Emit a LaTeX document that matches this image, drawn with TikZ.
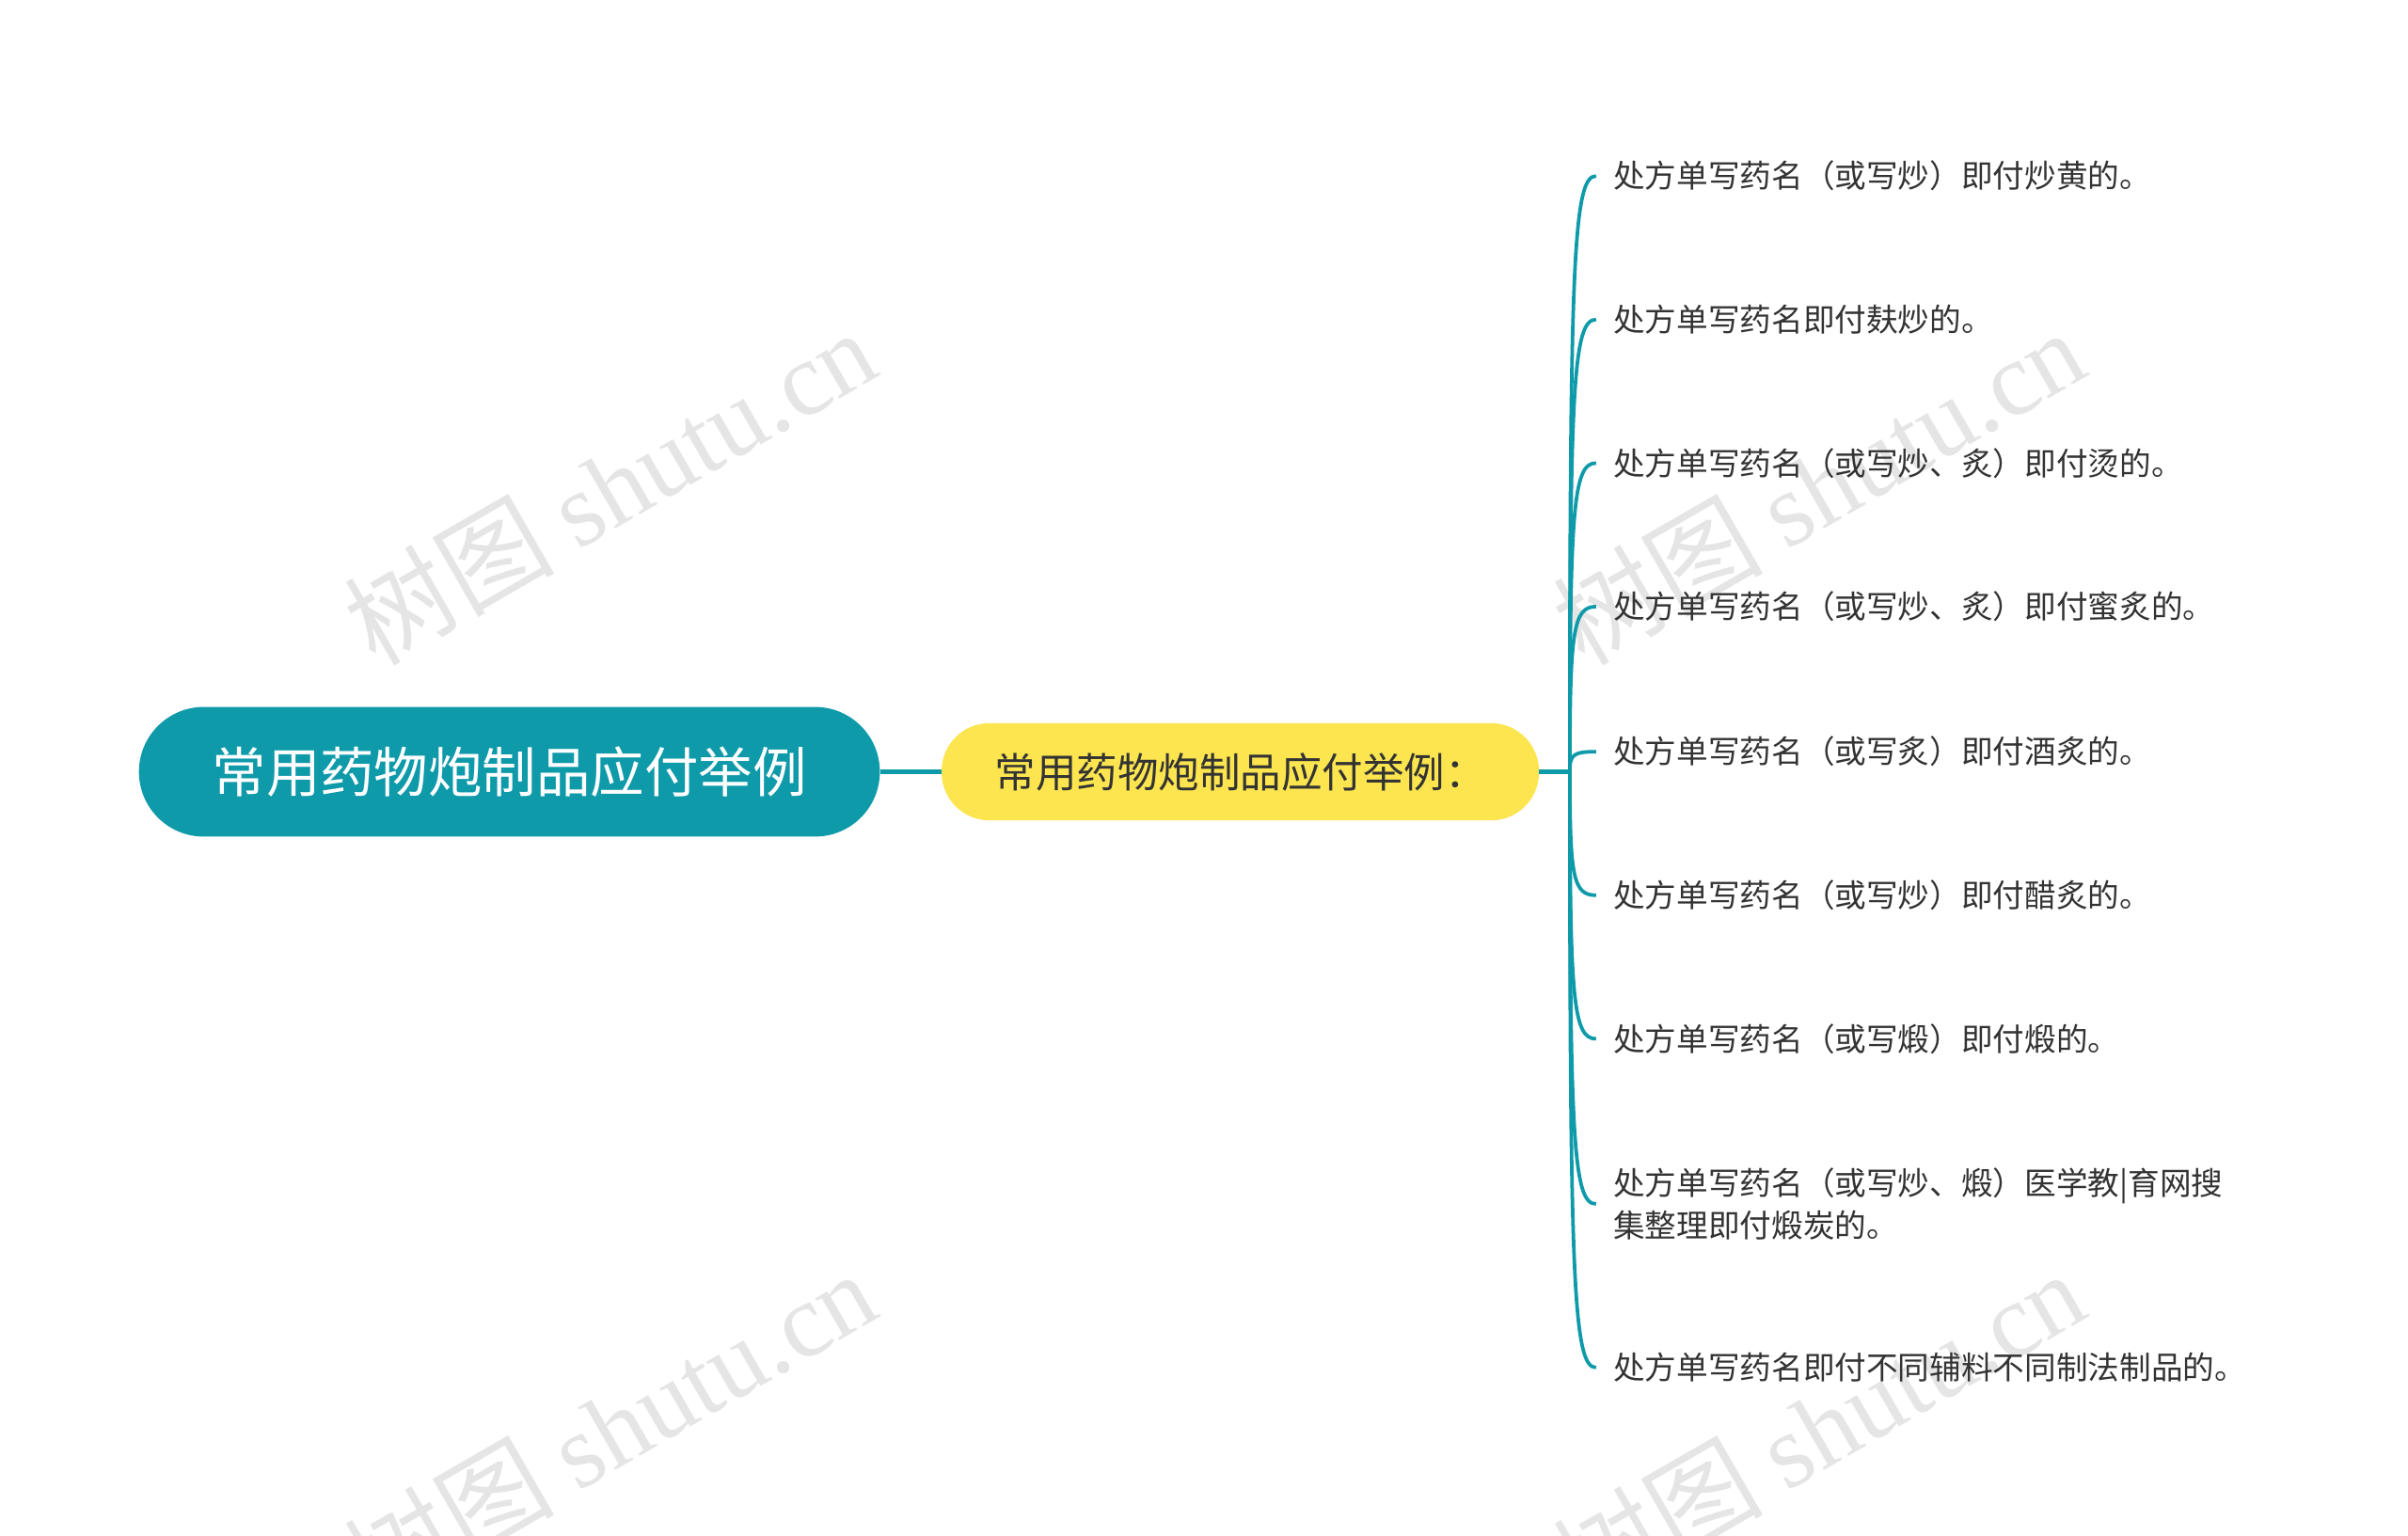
\documentclass[tikz,border=0pt]{standalone}
\usepackage{fontspec}
\setmainfont{Noto Sans CJK SC}
\setsansfont{Noto Sans CJK SC}
\newfontfamily\wmlat{Liberation Serif}
\definecolor{teal1}{HTML}{0F9AAA}
\definecolor{yel}{HTML}{FCE54F}
\definecolor{txt}{HTML}{333333}
\tikzset{
 rootbox/.style={rounded corners=42pt,fill=teal1,text=white,minimum width=480pt,minimum height=84pt,font=\fontsize{35}{40}\selectfont},
 midbox/.style={rounded corners=31pt,fill=yel,text=txt,minimum width=387pt,minimum height=63pt,font=\fontsize{26.5}{30}\selectfont},
 leaf/.style={anchor=west,inner sep=0pt,text=txt,font=\fontsize{20.5}{27}\selectfont,align=left},
 conn/.style={draw=teal1,line width=2.8pt},
 wm/.style={text=gray!20,font=\fontsize{68}{76}\selectfont,rotate=30}
}
\begin{document}
\begin{tikzpicture}[x=1pt,y=-1pt]
\useasboundingbox (0,0) rectangle (1560,995);
\node[wm] (w1) at (395,315) {树图 {\wmlat shutu.cn}};
\node[wm] (w2) at (1178,315) {树图 {\wmlat shutu.cn}};
\node[wm] (w3) at (395,925) {树图 {\wmlat shutu.cn}};
\node[wm] (w4) at (1178,925) {树图 {\wmlat shutu.cn}};
\node[rootbox] (root) at (330,500) {常用药物炮制品应付举例};
\node[midbox] (mid) at (803.5,500) {常用药物炮制品应付举例：};
\draw[conn] (root.east) -- (mid.west);
\coordinate (hub) at (1017,500);
\draw[conn] (mid.east) -- (hub);
\foreach \i/\y/\t in {
 1/114/{处方单写药名（或写炒）即付炒黄的。},
 2/207/{处方单写药名即付麸炒的。},
 3/300/{处方单写药名（或写炒、炙）即付烫的。},
 4/393/{处方单写药名（或写炒、炙）即付蜜炙的。},
 5/487/{处方单写药名（或写炙）即付酒炙的。},
 6/580/{处方单写药名（或写炒）即付醋炙的。},
 7/673/{处方单写药名（或写煅）即付煅的。},
 8/780/{处方单写药名（或写炒、煅）医学教|育网搜\\集整理即付煅炭的。},
 9/886/{处方单写药名即付不同辅料不同制法制品的。}}{
 \node[leaf] (l\i) at (1045,\y) {\t};
 \coordinate (e\i) at (1034,\y);
 \draw[conn,line width=2.3pt] (hub) .. controls (1017,{500+0.85*(\y-500)}) and (1019,\y) .. (e\i);
}
\end{tikzpicture}
\end{document}
